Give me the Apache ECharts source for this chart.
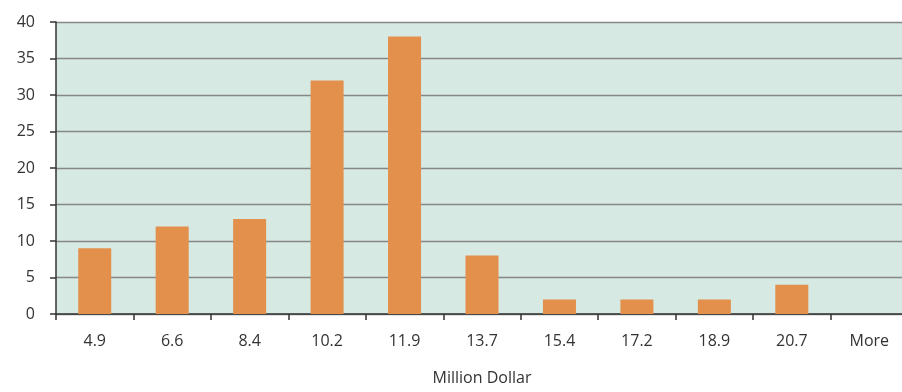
<!DOCTYPE html>
<html>
<head>
<meta charset="utf-8">
<script src="https://cdn.jsdelivr.net/npm/echarts@6/dist/echarts.min.js"></script>
<style>
  html, body { margin: 0; padding: 0; background: #fff; }
  #chart { width: 902px; height: 392px; }
</style>
</head>
<body>
<div id="chart"></div>
<script>
const categories = ["4.9", "6.6", "8.4", "10.2", "11.9", "13.7", "15.4", "17.2", "18.9", "20.7", "More"];
const frequency = [9, 12, 13, 32, 38, 8, 2, 2, 2, 4, 0];
const xAxisName = "Million Dollar";

const myChart = echarts.init(document.getElementById("chart"));
const option = {
  animation: false,
  grid: {
    left: 56,
    right: -6,
    top: 22,
    bottom: 78,
    outerBoundsMode: "none",
    show: true,
    backgroundColor: "#d6e9e2",
    borderWidth: 0,
  },
  xAxis: {
    type: "category",
    data: categories,
    name: xAxisName,
    nameLocation: "middle",
    nameGap: 56,
    nameTextStyle: {
      color: "#333",
      fontSize: 16,
      fontFamily: "Open Sans",
    },
    axisLine: {
      lineStyle: { color: "#333", width: 1.5 },
    },
    axisTick: {
      show: true,
      length: 6,
      inside: false,
      lineStyle: { color: "#333", width: 1.5 },
    },
    axisLabel: {
      color: "#333",
      fontSize: 16,
      fontFamily: "Open Sans",
      margin: 19,
    },
  },
  yAxis: {
    type: "value",
    min: 0,
    max: 40,
    interval: 5,
    axisLine: {
      show: true,
      lineStyle: { color: "#333", width: 1.5 },
    },
    axisTick: {
      show: true,
      length: 6,
      lineStyle: { color: "#333", width: 1.5 },
    },
    axisLabel: {
      color: "#333",
      fontSize: 16,
      fontFamily: "Open Sans",
      margin: 21,
    },
    splitLine: {
      lineStyle: { color: "#878787", width: 1.3 },
    },
  },
  series: [
    {
      type: "bar",
      data: frequency,
      barWidth: 33,
      itemStyle: { color: "#e3904c" },
    },
  ],
};
myChart.setOption(option);
</script>
</body>
</html>
